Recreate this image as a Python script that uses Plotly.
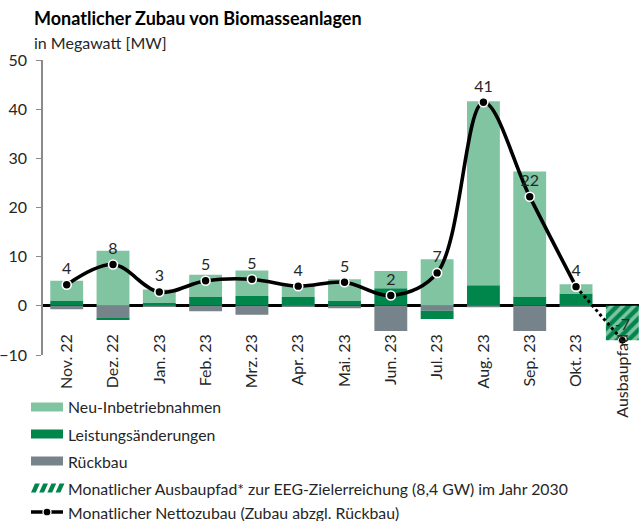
import plotly.graph_objects as go

# ---------------- data ----------------
categories = ["Nov. 22", "Dez. 22", "Jan. 23", "Feb. 23", "Mrz. 23", "Apr. 23",
              "Mai. 23", "Jun. 23", "Jul. 23", "Aug. 23", "Sep. 23", "Okt. 23",
              "Ausbaupfad"]
neu = [4.0, 11.2, 2.7, 4.5, 5.2, 2.6, 4.4, 3.5, 9.5, 37.4, 25.4, 1.9, None]
leistung = [1.1, -0.3, 0.6, 1.8, 2.0, 1.8, 1.0, 3.6, -1.7, 4.2, 1.9, 2.5, None]
rueckbau = [-0.7, -2.6, -0.2, -1.1, -1.8, -0.1, -0.5, -5.1, -1.0, -0.3, -5.1, -0.1, None]
ausbaupfad = [None] * 12 + [-7.0]
netto = [4.3, 8.4, 2.8, 5.1, 5.4, 4.0, 4.8, 2.1, 6.7, 41.4, 22.2, 3.9]
netto_pfad = [3.9, -7.0]
pfad_cats = ["Okt. 23", "Ausbaupfad"]

y_ticks = [-10, 0, 10, 20, 30, 40, 50]

# ---------------- styles ----------------
C_NEU = "#80C4A2"
C_LEIST = "#00854A"
C_RUECK = "#77838A"
C_TEXT = "#262626"
FONT = "Lato"

W, H = 639, 521
L, R, T, B = 43, 639, 60, 355


def px_x(x):
    return (x - L) / (R - L)


def px_y(y):
    return (B - y) / (B - T)


fig = go.Figure()

fig.add_trace(go.Bar(x=categories, y=rueckbau, marker=dict(color=C_RUECK, line=dict(width=0)),
                     width=0.71, name="Rückbau"))
fig.add_trace(go.Bar(x=categories, y=leistung, marker=dict(color=C_LEIST, line=dict(width=0)),
                     width=0.71, name="Leistungsänderungen"))
fig.add_trace(go.Bar(x=categories, y=neu, marker=dict(color=C_NEU, line=dict(width=0)),
                     width=0.71, name="Neu-Inbetriebnahmen"))
fig.add_trace(go.Bar(x=categories, y=ausbaupfad,
                     marker=dict(color=C_LEIST, line=dict(width=0),
                                 pattern=dict(shape="/", fgcolor="white", size=8,
                                              solidity=0.45, fillmode="overlay")),
                     width=0.71, name="Ausbaupfad"))

# dotted continuation to Ausbaupfad
fig.add_trace(go.Scatter(x=pfad_cats, y=netto_pfad, mode="lines",
                         line=dict(color="black", width=3, dash="dot"),
                         hoverinfo="skip"))
fig.add_trace(go.Scatter(x=[pfad_cats[1]], y=[netto_pfad[1]], mode="markers+text",
                         marker=dict(color="black", size=8, line=dict(color="white", width=1)),
                         text=["%d" % round(netto_pfad[1])], textposition="top center",
                         textfont=dict(family=FONT, size=16, color=C_TEXT)))

# net line
fig.add_trace(go.Scatter(x=categories[:12], y=netto, mode="lines+markers+text",
                         line=dict(color="black", width=3.6, shape="spline", smoothing=1.0),
                         marker=dict(color="black", size=9, line=dict(color="white", width=1.6)),
                         text=["%d" % round(v) for v in netto], textposition="top center",
                         textfont=dict(family=FONT, size=16, color=C_TEXT)))

# ---------------- layout ----------------
shapes = []
annotations = []

annotations.append(dict(xref="paper", yref="paper", x=px_x(32), y=px_y(18),
                        xanchor="left", yanchor="middle", showarrow=False,
                        text="<b>Monatlicher Zubau von Biomasseanlagen</b>",
                        font=dict(family=FONT, size=18, color="black")))
annotations.append(dict(xref="paper", yref="paper", x=px_x(32), y=px_y(42),
                        xanchor="left", yanchor="middle", showarrow=False,
                        text="in Megawatt [MW]",
                        font=dict(family=FONT, size=16, color=C_TEXT)))

legend_items = [
    ("rect", C_NEU, "Neu-Inbetriebnahmen", 407),
    ("rect", C_LEIST, "Leistungsänderungen", 434),
    ("rect", C_RUECK, "Rückbau", 461),
    ("hatch", C_LEIST, "Monatlicher Ausbaupfad* zur EEG-Zielerreichung (8,4 GW) im Jahr 2030", 488),
    ("line", "black", "Monatlicher Nettozubau (Zubau abzgl. Rückbau)", 512),
]
sx0, sx1 = 31, 63
for kind, col, label, yc in legend_items:
    if kind == "rect":
        shapes.append(dict(type="rect", xref="paper", yref="paper",
                           x0=px_x(sx0), x1=px_x(sx1), y0=px_y(yc + 4.5), y1=px_y(yc - 4.5),
                           fillcolor=col, line=dict(width=0)))
    elif kind == "hatch":
        for k in range(4):
            xa = sx0 + k * 8.2
            pts = [(xa, yc + 4.5), (xa + 4.8, yc + 4.5), (xa + 4.8 + 4, yc - 4.5), (xa + 4, yc - 4.5)]
            path = "M " + " L ".join("%f,%f" % (px_x(a), px_y(b)) for a, b in pts) + " Z"
            shapes.append(dict(type="path", xref="paper", yref="paper", path=path,
                               fillcolor=col, line=dict(width=0)))
    else:
        shapes.append(dict(type="line", xref="paper", yref="paper",
                           x0=px_x(sx0), x1=px_x(sx1), y0=px_y(yc), y1=px_y(yc),
                           line=dict(color="black", width=3.5)))
        shapes.append(dict(type="circle", xref="paper", yref="paper",
                           x0=px_x(47 - 4), x1=px_x(47 + 4), y0=px_y(yc + 4), y1=px_y(yc - 4),
                           fillcolor="black", line=dict(color="white", width=1.3)))
    annotations.append(dict(xref="paper", yref="paper", x=px_x(66), y=px_y(yc),
                            xanchor="left", yanchor="middle", showarrow=False, text=label,
                            font=dict(family=FONT, size=15.8, color=C_TEXT)))

fig.update_layout(
    width=W, height=H,
    margin=dict(l=L, r=W - R, t=T, b=H - B, pad=0),
    paper_bgcolor="white", plot_bgcolor="white",
    barmode="relative", bargap=0.29,
    showlegend=False,
    font=dict(family=FONT, size=16, color=C_TEXT),
    shapes=shapes, annotations=annotations,
    xaxis=dict(type="category", categoryorder="array", categoryarray=categories,
               range=[-0.512, 12.36], showline=False, showgrid=False, zeroline=False,
               ticks="", tickangle=-90, anchor="free", position=0.085,
               tickfont=dict(family=FONT, size=16, color=C_TEXT)),
    yaxis=dict(range=[-10, 50], tickvals=y_ticks, showgrid=False,
               showline=True, linecolor="#8A8A8A", linewidth=1.5,
               ticks="outside", ticklen=5, tickcolor="#8A8A8A", tickwidth=1.2,
               zeroline=True, zerolinecolor="black", zerolinewidth=2.5,
               ticklabelstandoff=6,
               tickfont=dict(family=FONT, size=16, color=C_TEXT)),
)

fig.write_html("out.html", config={"displayModeBar": False},
               post_script="document.body.style.margin='0px';document.body.style.overflow='hidden';")
